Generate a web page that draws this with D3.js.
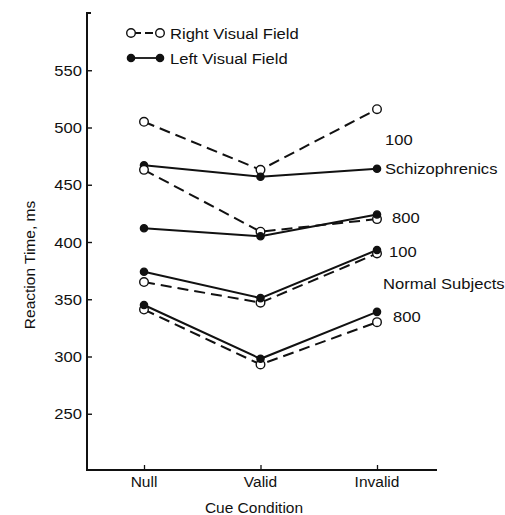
<!DOCTYPE html>
<html><head><meta charset="utf-8">
<script src="https://cdn.jsdelivr.net/npm/d3@7"></script>
<style>body{margin:0;background:#fff}svg{display:block}text{font-family:"Liberation Sans",Arial,sans-serif;fill:#111}</style>
</head><body>
<script>
const categories = ["Null", "Valid", "Invalid"];
const yTicks = [250, 300, 350, 400, 450, 500, 550];
// Schizophrenics, 100 ms
const schiz100Right = [505, 463, 516];
const schiz100Left = [467, 457, 464];
// Schizophrenics, 800 ms
const schiz800Right = [463, 409, 420];
const schiz800Left = [412, 405, 424];
// Normal subjects, 100 ms
const norm100Right = [365, 347, 390];
const norm100Left = [374, 351, 393];
// Normal subjects, 800 ms
const norm800Right = [341, 293, 330];
const norm800Left = [345, 298, 339];

const series = [
  {v: schiz100Right, right: true}, {v: schiz100Left, right: false},
  {v: schiz800Right, right: true}, {v: schiz800Left, right: false},
  {v: norm100Right, right: true}, {v: norm100Left, right: false},
  {v: norm800Right, right: true}, {v: norm800Left, right: false}
];

const W = 505, H = 515;
const svg = d3.select("body").append("svg").attr("width", W).attr("height", H);
const x = d3.scalePoint().domain(categories).range([144, 377]);
const y = d3.scaleLinear().domain([200, 600]).range([471, 13]);
const axisX0 = 87, axisX1 = 437, axisY = 470;
const fs = 15.5;

// y axis
const ya = svg.append("g").attr("transform", `translate(${axisX0},0)`)
  .call(d3.axisRight(y).tickValues(yTicks).tickSize(5).tickFormat(""));
ya.select(".domain").remove();
ya.selectAll(".tick line").attr("stroke", "#111").attr("stroke-width", 1.4);
svg.append("path").attr("d", `M${axisX0+4},13H${axisX0}V${axisY}H${axisX1}`)
  .attr("fill", "none").attr("stroke", "#111").attr("stroke-width", 2);
svg.selectAll(".ylab").data(yTicks).join("text")
  .attr("x", 82).attr("y", d => y(d)).attr("dy", "0.36em")
  .attr("text-anchor", "end").attr("font-size", fs)
  .attr("transform", d => `translate(82,0) scale(1.07,1) translate(-82,0)`).text(d => d);

// x axis ticks
const xa = svg.append("g").attr("transform", `translate(0,${axisY})`)
  .call(d3.axisTop(x).tickSize(5).tickFormat(""));
xa.select(".domain").remove();
xa.selectAll(".tick line").attr("stroke", "#111").attr("stroke-width", 1.3);
svg.selectAll(".xlab").data(categories).join("text")
  .attr("x", d => x(d)).attr("y", 487)
  .attr("text-anchor", "middle").attr("font-size", fs).text(d => d);
svg.append("text").attr("x", 254).attr("y", 513).attr("text-anchor", "middle")
  .attr("font-size", fs).text("Cue Condition");
svg.append("text").attr("transform", "translate(35,265) rotate(-90)")
  .attr("text-anchor", "middle").attr("font-size", fs).text("Reaction Time, ms");

// lines
const line = d3.line().x((d, i) => x(categories[i])).y(d => y(d));
svg.selectAll(".ln").data(series).join("path")
  .attr("d", s => line(s.v)).attr("fill", "none").attr("stroke", "#111")
  .attr("stroke-width", 2)
  .attr("stroke-dasharray", s => s.right ? "11,6" : null);
// points
series.forEach(s => {
  svg.selectAll(null).data(s.v).join("circle")
    .attr("cx", (d, i) => x(categories[i])).attr("cy", d => y(d))
    .attr("r", s.right ? 4.3 : 3.6)
    .attr("fill", s.right ? "#fff" : "#111").attr("stroke", "#111").attr("stroke-width", 1.4);
});

// legend
const leg = [{t: "Right Visual Field", right: true, yy: 33}, {t: "Left Visual Field", right: false, yy: 58}];
leg.forEach(l => {
  svg.append("line").attr("x1", 131).attr("x2", 160).attr("y1", l.yy).attr("y2", l.yy)
    .attr("stroke", "#111").attr("stroke-width", 1.8)
    .attr("stroke-dasharray", l.right ? "8,4" : null)
    .attr("stroke-dashoffset", l.right ? -2 : 0);
  [131, 160].forEach(cx => svg.append("circle").attr("cx", cx).attr("cy", l.yy)
    .attr("r", l.right ? 4.3 : 3.6).attr("fill", l.right ? "#fff" : "#111")
    .attr("stroke", "#111").attr("stroke-width", 1.4));
  svg.append("text").attr("x", 170).attr("y", l.yy).attr("dy", "0.36em")
    .attr("font-size", fs).attr("transform", "translate(170,0) scale(1.07,1) translate(-170,0)").text(l.t);
});

// group labels
const labels = [
  {t: "100", x: 385, y: 139}, {t: "Schizophrenics", x: 385, y: 168},
  {t: "800", x: 392, y: 217}, {t: "100", x: 389, y: 251},
  {t: "Normal Subjects", x: 383, y: 283}, {t: "800", x: 393, y: 316}
];
svg.selectAll(".gl").data(labels).join("text")
  .attr("x", d => d.x).attr("y", d => d.y).attr("dy", "0.36em")
  .attr("font-size", fs)
  .attr("transform", d => `translate(${d.x},0) scale(1.07,1) translate(${-d.x},0)`).text(d => d.t);
</script>
</body></html>
